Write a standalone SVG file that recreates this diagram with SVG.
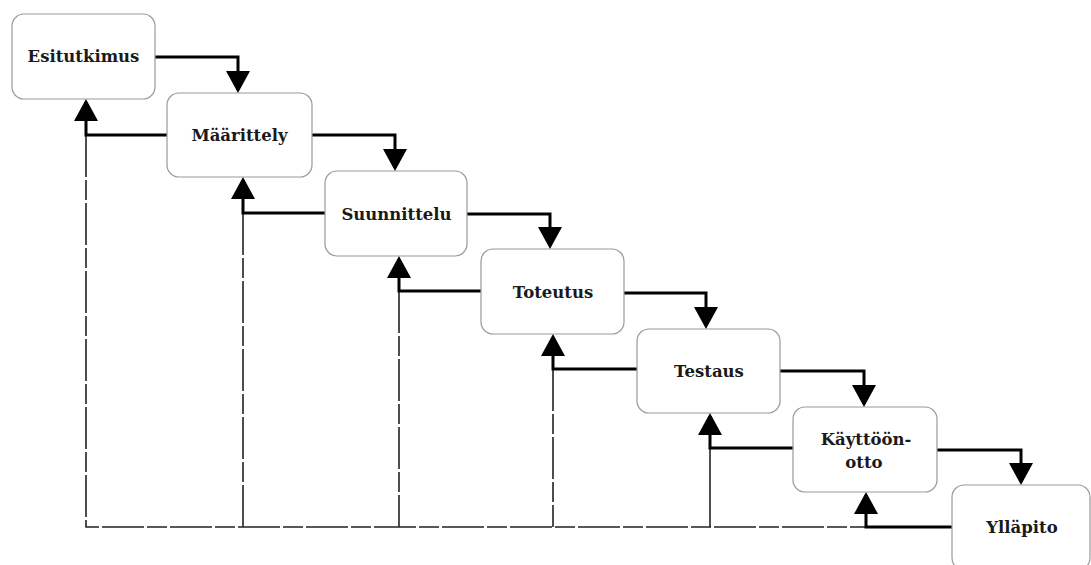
<svg xmlns="http://www.w3.org/2000/svg" width="1091" height="565" viewBox="0 0 1091 565">
<style>
.box{fill:#fff;stroke:#9a9a9a;stroke-width:1.2}
.lbl{font-family:"DejaVu Serif","Liberation Serif",serif;font-weight:bold;font-size:16.5px;fill:#1a1a1a;text-anchor:middle}
.fw{fill:none;stroke:#000;stroke-width:3;marker-end:url(#ah)}
.thin{fill:none;stroke:#222;stroke-width:1.6;stroke-dasharray:42 3 20 3}
.solid{fill:none;stroke:#222;stroke-width:1.6}
</style>
<defs>
<marker id="ah" markerUnits="userSpaceOnUse" markerWidth="22" markerHeight="24" refX="19" refY="12" orient="auto" viewBox="0 0 22 24">
<path d="M0,0 L22,12 L0,24 z" fill="#000"/>
</marker>
</defs>
<rect width="1091" height="565" fill="#fff"/>
<g id="connectors">
<path class="thin" d="M86,135 V527 H866"/>
<path class="thin" d="M243,213 V527"/>
<path class="thin" d="M399,291 V527"/>
<path class="thin" d="M553,369 V527"/>
<path class="solid" d="M710,448 V527"/>
<path class="fw" d="M155,57 H238 V90"/>
<path class="fw" d="M312,135 H395 V168"/>
<path class="fw" d="M467,214 H550 V246"/>
<path class="fw" d="M624,293 H706 V326"/>
<path class="fw" d="M780,371 H864 V404"/>
<path class="fw" d="M937,450 H1021 V482"/>
<path class="fw" d="M167,135 H86 V102"/>
<path class="fw" d="M325,213 H243 V180"/>
<path class="fw" d="M481,291 H399 V259"/>
<path class="fw" d="M637,369 H553 V337"/>
<path class="fw" d="M793,448 H710 V416"/>
<path class="fw" d="M952,527 H866 V495"/>
</g>
<g id="esitutkimus"><rect class="box" x="12" y="14" width="143" height="85" rx="12"/><text class="lbl" x="83.5" y="62">Esitutkimus</text></g>
<g id="maarittely"><rect class="box" x="167" y="93" width="145" height="84" rx="12"/><text class="lbl" x="239.5" y="141">Määrittely</text></g>
<g id="suunnittelu"><rect class="box" x="325" y="171" width="142" height="85" rx="12"/><text class="lbl" x="396.5" y="219.5">Suunnittelu</text></g>
<g id="toteutus"><rect class="box" x="481" y="249" width="143" height="85" rx="12"/><text class="lbl" x="553" y="298">Toteutus</text></g>
<g id="testaus"><rect class="box" x="637" y="329" width="143" height="84" rx="12"/><text class="lbl" x="709" y="377">Testaus</text></g>
<g id="kayttoonotto"><rect class="box" x="793" y="407" width="144" height="85" rx="12"/><text class="lbl" x="866" y="445">Käyttöön-</text><text class="lbl" x="864" y="468">otto</text></g>
<g id="yllapito"><rect class="box" x="952" y="485" width="138" height="85" rx="12"/><text class="lbl" x="1022" y="533">Ylläpito</text></g>
</svg>
